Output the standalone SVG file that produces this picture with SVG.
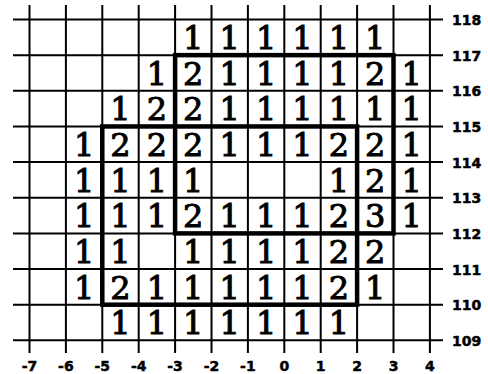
<svg xmlns="http://www.w3.org/2000/svg" width="488" height="374" viewBox="0 0 488 374">
<style>
.g{stroke:#000;stroke-width:2;fill:none}
.t{stroke:#000;stroke-width:4.5;fill:none;stroke-linecap:square}
.n{font-family:"DejaVu Serif","Liberation Serif",serif;font-size:32px;text-anchor:middle;fill:#000;stroke:#000;stroke-width:1}
.ax{font-family:"DejaVu Sans","Liberation Sans",sans-serif;font-weight:bold;font-size:14px;fill:#000;stroke:#000;stroke-width:0.5}
.bx{text-anchor:middle}
</style>
<rect width="488" height="374" fill="#fff"/>
<g id="grid" class="g">
<path d="M29.5 5V353M65.9 5V353M102.3 5V353M138.7 5V353M175.1 5V353M211.5 5V353M247.9 5V353M284.3 5V353M320.7 5V353M357.1 5V353M393.5 5V353M429.9 5V353"/>
<path d="M13 19.5H443M13 55.15H443M13 90.8H443M13 126.45H443M13 162.1H443M13 197.75H443M13 233.4H443M13 269.05H443M13 304.7H443M13 340.35H443"/>
</g>
<g id="outlines" class="t">
<rect x="175.1" y="55.15" width="218.4" height="178.25"/>
<rect x="102.3" y="126.45" width="254.8" height="178.25"/>
</g>
<g id="values" class="n">
<text x="193.3" y="49.15">1</text><text x="229.7" y="49.15">1</text><text x="266.1" y="49.15">1</text><text x="302.5" y="49.15">1</text><text x="338.9" y="49.15">1</text><text x="375.3" y="49.15">1</text>
<text x="156.9" y="84.8">1</text><text x="193.3" y="84.8">2</text><text x="229.7" y="84.8">1</text><text x="266.1" y="84.8">1</text><text x="302.5" y="84.8">1</text><text x="338.9" y="84.8">1</text><text x="375.3" y="84.8">2</text><text x="411.7" y="84.8">1</text>
<text x="120.5" y="120.45">1</text><text x="156.9" y="120.45">2</text><text x="193.3" y="120.45">2</text><text x="229.7" y="120.45">1</text><text x="266.1" y="120.45">1</text><text x="302.5" y="120.45">1</text><text x="338.9" y="120.45">1</text><text x="375.3" y="120.45">1</text><text x="411.7" y="120.45">1</text>
<text x="84.1" y="156.1">1</text><text x="120.5" y="156.1">2</text><text x="156.9" y="156.1">2</text><text x="193.3" y="156.1">2</text><text x="229.7" y="156.1">1</text><text x="266.1" y="156.1">1</text><text x="302.5" y="156.1">1</text><text x="338.9" y="156.1">2</text><text x="375.3" y="156.1">2</text><text x="411.7" y="156.1">1</text>
<text x="84.1" y="191.75">1</text><text x="120.5" y="191.75">1</text><text x="156.9" y="191.75">1</text><text x="193.3" y="191.75">1</text><text x="338.9" y="191.75">1</text><text x="375.3" y="191.75">2</text><text x="411.7" y="191.75">1</text>
<text x="84.1" y="227.4">1</text><text x="120.5" y="227.4">1</text><text x="156.9" y="227.4">1</text><text x="193.3" y="227.4">2</text><text x="229.7" y="227.4">1</text><text x="266.1" y="227.4">1</text><text x="302.5" y="227.4">1</text><text x="338.9" y="227.4">2</text><text x="375.3" y="227.4">3</text><text x="411.7" y="227.4">1</text>
<text x="84.1" y="263.05">1</text><text x="120.5" y="263.05">1</text><text x="193.3" y="263.05">1</text><text x="229.7" y="263.05">1</text><text x="266.1" y="263.05">1</text><text x="302.5" y="263.05">1</text><text x="338.9" y="263.05">2</text><text x="375.3" y="263.05">2</text>
<text x="84.1" y="298.7">1</text><text x="120.5" y="298.7">2</text><text x="156.9" y="298.7">1</text><text x="193.3" y="298.7">1</text><text x="229.7" y="298.7">1</text><text x="266.1" y="298.7">1</text><text x="302.5" y="298.7">1</text><text x="338.9" y="298.7">2</text><text x="375.3" y="298.7">1</text>
<text x="120.5" y="334.35">1</text><text x="156.9" y="334.35">1</text><text x="193.3" y="334.35">1</text><text x="229.7" y="334.35">1</text><text x="266.1" y="334.35">1</text><text x="302.5" y="334.35">1</text><text x="338.9" y="334.35">1</text>
</g>
<g id="yaxis" class="ax">
<text x="452" y="25">118</text><text x="452" y="60.65">117</text><text x="452" y="96.3">116</text><text x="452" y="131.95">115</text><text x="452" y="167.6">114</text><text x="452" y="203.25">113</text><text x="452" y="238.9">112</text><text x="452" y="274.55">111</text><text x="452" y="310.2">110</text><text x="452" y="345.85">109</text>
</g>
<g id="xaxis" class="ax bx">
<text x="29.5" y="370.5">-7</text><text x="65.9" y="370.5">-6</text><text x="102.3" y="370.5">-5</text><text x="138.7" y="370.5">-4</text><text x="175.1" y="370.5">-3</text><text x="211.5" y="370.5">-2</text><text x="247.9" y="370.5">-1</text><text x="284.3" y="370.5">0</text><text x="320.7" y="370.5">1</text><text x="357.1" y="370.5">2</text><text x="393.5" y="370.5">3</text><text x="429.9" y="370.5">4</text>
</g>
</svg>
